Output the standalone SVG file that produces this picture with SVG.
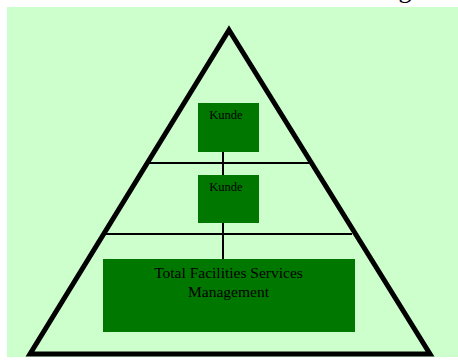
<svg xmlns="http://www.w3.org/2000/svg" width="458" height="361" viewBox="0 0 458 361">
  <style>
    .bg { fill: #ccffcc; }
    .pyramid { fill: none; stroke: #000; stroke-width: 5; stroke-linejoin: miter; }
    .tier { stroke: #000; stroke-width: 2; }
    .box { fill: #007800; }
    .lbl { font-family: "Liberation Serif", "Times New Roman", serif; fill: #000; text-anchor: middle; }
    .small { font-size: 12.5px; }
    .big { font-size: 15.5px; }
    .link { stroke: #000; stroke-width: 2; fill: none; }
  </style>

  <!-- page background -->
  <rect x="0" y="0" width="458" height="361" fill="#ffffff"/>
  <rect class="bg" x="7" y="7" width="451" height="350"/>

  <!-- title, mostly outside the page -->
  <text x="405" y="-2.5" class="lbl" font-size="26">g</text>

  <!-- pyramid with tier separators -->
  <g id="pyramid">
    <polygon class="pyramid" points="229,30 430,354 30,354"/>
    <line class="tier" x1="149" y1="163" x2="309" y2="163"/>
    <line class="tier" x1="105" y1="234" x2="352" y2="234"/>
  </g>

  <!-- connectors between nodes -->
  <g id="connectors">
    <line class="link" x1="223" y1="151" x2="223" y2="176"/>
    <line class="link" x1="223" y1="222" x2="223" y2="260"/>
  </g>

  <g id="kunde-top">
    <rect class="box" x="198" y="103" width="61" height="49"/>
    <text class="lbl small" x="226" y="119">Kunde</text>
  </g>

  <g id="kunde-middle">
    <rect class="box" x="198" y="175" width="61" height="48"/>
    <text class="lbl small" x="226" y="191">Kunde</text>
  </g>

  <g id="tfsm">
    <rect class="box" x="103" y="259" width="252" height="73"/>
    <text class="lbl big" x="228.5" y="278">Total Facilities Services</text>
    <text class="lbl big" x="228.5" y="296.5">Management</text>
  </g>
</svg>
